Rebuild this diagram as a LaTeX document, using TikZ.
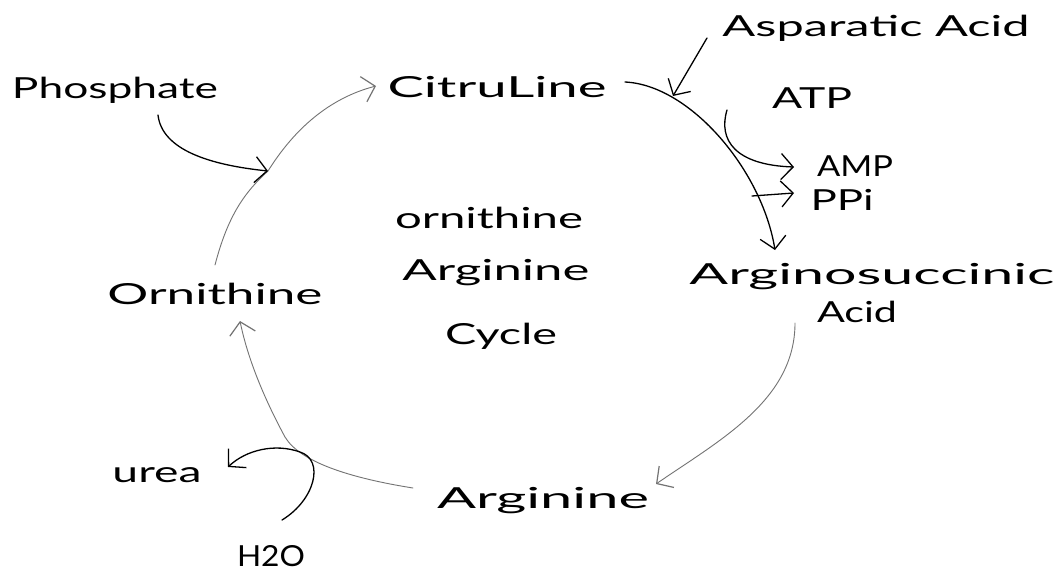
\documentclass[tikz,border=0pt]{standalone}
\usepackage{fontspec}
\setmainfont{Lato}
\usepackage{graphicx}
\usetikzlibrary{arrows.meta}
\newcommand{\hw}[2]{\resizebox{#1pt}{\height}{#2}}
\tikzset{
  lbl/.style={inner sep=0pt, anchor=base, font=\fontsize{29}{32}\selectfont},
  ink/.style={draw=black, line width=1.3pt, line cap=round, -{Straight Barb[length=12pt,width=26pt,line width=1.3pt]}},
  pencil/.style={draw=black!55, line width=0.9pt, line cap=round, -{Straight Barb[length=12pt,width=26pt,line width=1.2pt]}},
}
\begin{document}
\begin{tikzpicture}[x=1pt,y=-1pt]
\useasboundingbox (0,0) rectangle (1061,576);
\fill[white] (0,0) rectangle (1061,576);
% labels
\node[lbl] (phos) at (115,98) {\hw{206}{Phosphate}};
\node[lbl] (cit) at (497,97) {\hw{219}{CitruLine}};
\node[lbl] (asp) at (876,36) {\hw{307}{Asparatic Acid}};
\node[lbl] (atp) at (812,108) {\hw{80}{ATP}};
\node[lbl] (amp) at (855,176) {\hw{76}{AMP}};
\node[lbl] (ppi) at (842,210) {\hw{63}{PPi}};
\node[lbl] (argsuc) at (872,284) {\hw{365}{Arginosuccinic}};
\node[lbl] (acid) at (857,322) {\hw{80}{Acid}};
\node[lbl] (arg) at (543,508) {\hw{212}{Arginine}};
\node[lbl] (orn) at (215,304) {\hw{215}{Ornithine}};
\node[lbl] (c1) at (489,228) {\hw{188}{ornithine}};
\node[lbl] (c2) at (496,280) {\hw{187}{Arginine}};
\node[lbl] (c3) at (501,344) {\hw{112}{Cycle}};
\node[lbl] (urea) at (157,482) {\hw{89}{urea}};
\node[lbl] (water) at (271,566) {\hw{68}{H2O}};
% junction coordinates
\coordinate (ornTop) at (215,265);
\coordinate (phosEnd) at (158,115);
\coordinate (jPhos) at (268,171);
\coordinate (citIn) at (376,86);
\coordinate (citOut) at (625,82);
\coordinate (aspStart) at (707,38);
\coordinate (jAsp) at (673,96);
\coordinate (sucIn) at (775,250);
\coordinate (atpStart) at (727,110);
\coordinate (ampIn) at (794,167);
\coordinate (ppiStart) at (752,196);
\coordinate (ppiIn) at (794,193);
\coordinate (acidOut) at (795,323);
\coordinate (argIn) at (656,484);
\coordinate (argOut) at (413,488);
\coordinate (ornIn) at (240,321);
\coordinate (h2oStart) at (282,520);
\coordinate (ureaIn) at (228,467);
% connectors
\draw[pencil] (ornTop) .. controls (228,215) and (245,192) .. (jPhos)
  .. controls (295,128) and (330,98) .. (citIn);
\draw[ink] (phosEnd) .. controls (162,150) and (210,165) .. (jPhos);
\draw[ink] (citOut) .. controls (690,85) and (762,170) .. (sucIn);
\draw[ink] (aspStart) -- (jAsp);
\draw[ink] (atpStart) .. controls (718,140) and (735,165) .. (ampIn);
\draw[ink] (ppiStart) -- (ppiIn);
\draw[pencil] (acidOut) .. controls (795,400) and (720,440) .. (argIn);
\draw[pencil] (argOut) .. controls (350,478) and (300,462) .. (285,437)
  .. controls (265,400) and (248,360) .. (ornIn);
\draw[ink] (h2oStart) .. controls (315,500) and (325,460) .. (300,452)
  .. controls (275,443) and (246,450) .. (ureaIn);
\end{tikzpicture}
\end{document}
